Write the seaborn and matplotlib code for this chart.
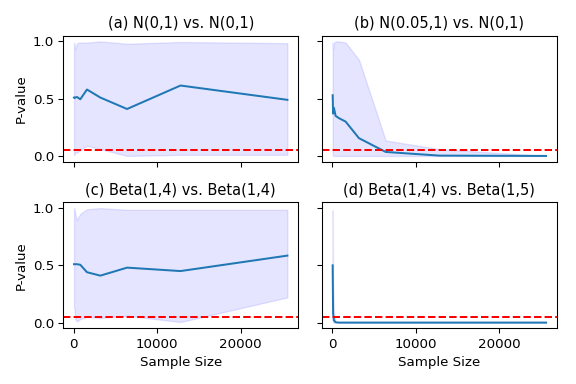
import numpy as np
import pandas as pd
import matplotlib
matplotlib.use("Agg")
import matplotlib.pyplot as plt
import seaborn as sns

# ---------------------------------------------------------------------
# Data: median p-value and spread band per sample size
# ---------------------------------------------------------------------
sample_sizes = [50, 100, 200, 400, 800, 1600, 3200, 6400, 12800, 25600]

titles = [
    "(a) N(0,1) vs. N(0,1)",
    "(b) N(0.05,1) vs. N(0,1)",
    "(c) Beta(1,4) vs. Beta(1,4)",
    "(d) Beta(1,4) vs. Beta(1,5)",
]

pval_a = [0.51, 0.505, 0.51, 0.515, 0.495, 0.58, 0.51, 0.41, 0.615, 0.49]
lower_a = [0.01, 0.01, 0.03, 0.03, 0.05, 0.09, 0.06, 0.0, 0.01, 0.01]
upper_a = [0.99, 0.97, 0.93, 0.985, 0.99, 0.99, 1.0, 0.98, 0.995, 0.985]

pval_b = [0.53, 0.37, 0.42, 0.35, 0.33, 0.30, 0.155, 0.035, 0.003, 0.0]
lower_b = [0.01, 0.0, 0.0, 0.0, 0.0, 0.0, 0.0, 0.0, 0.0, 0.0]
upper_b = [0.99, 0.93, 0.99, 1.0, 1.0, 0.99, 0.84, 0.135, 0.06, 0.0]

pval_c = [0.51, 0.51, 0.51, 0.51, 0.505, 0.44, 0.41, 0.48, 0.45, 0.585]
lower_c = [0.13, 0.12, 0.03, 0.01, 0.03, 0.05, 0.04, 0.06, 0.005, 0.22]
upper_c = [1.0, 0.99, 0.95, 0.895, 0.95, 0.99, 1.0, 0.985, 0.985, 0.985]

pval_d = [0.5, 0.08, 0.02, 0.003, 0.0, 0.0, 0.0, 0.0, 0.0, 0.0]
lower_d = [0.02, 0.0, 0.0, 0.0, 0.0, 0.0, 0.0, 0.0, 0.0, 0.0]
upper_d = [0.98, 0.35, 0.08, 0.01, 0.0, 0.0, 0.0, 0.0, 0.0, 0.0]

panels = [
    (pval_a, lower_a, upper_a),
    (pval_b, lower_b, upper_b),
    (pval_c, lower_c, upper_c),
    (pval_d, lower_d, upper_d),
]

alpha_level = 0.05

# ---------------------------------------------------------------------
# Plot
# ---------------------------------------------------------------------
fig, axes = plt.subplots(2, 2, figsize=(6, 4), dpi=96, sharex=True, sharey=True)

for ax, title, (pval, lower, upper) in zip(axes.flat, titles, panels):
    df = pd.DataFrame({"Sample Size": sample_sizes, "P-value": pval})
    ax.fill_between(sample_sizes, lower, upper, color="blue", alpha=0.1)
    sns.lineplot(data=df, x="Sample Size", y="P-value", ax=ax, color="tab:blue")
    ax.axhline(alpha_level, color="r", linestyle="--")
    ax.set_title(title, fontsize=11)

axes[0, 0].set_xticks([0, 10000, 20000])
axes[0, 0].set_yticks([0.0, 0.5, 1.0])
for ax in axes[0]:
    ax.set_xlabel("")
for ax in axes[:, 1]:
    ax.set_ylabel("")

fig.subplots_adjust(left=0.110, right=0.9665, top=0.907, bottom=0.145,
                    wspace=0.102, hspace=0.323)
plt.savefig("out.png", dpi=96)
